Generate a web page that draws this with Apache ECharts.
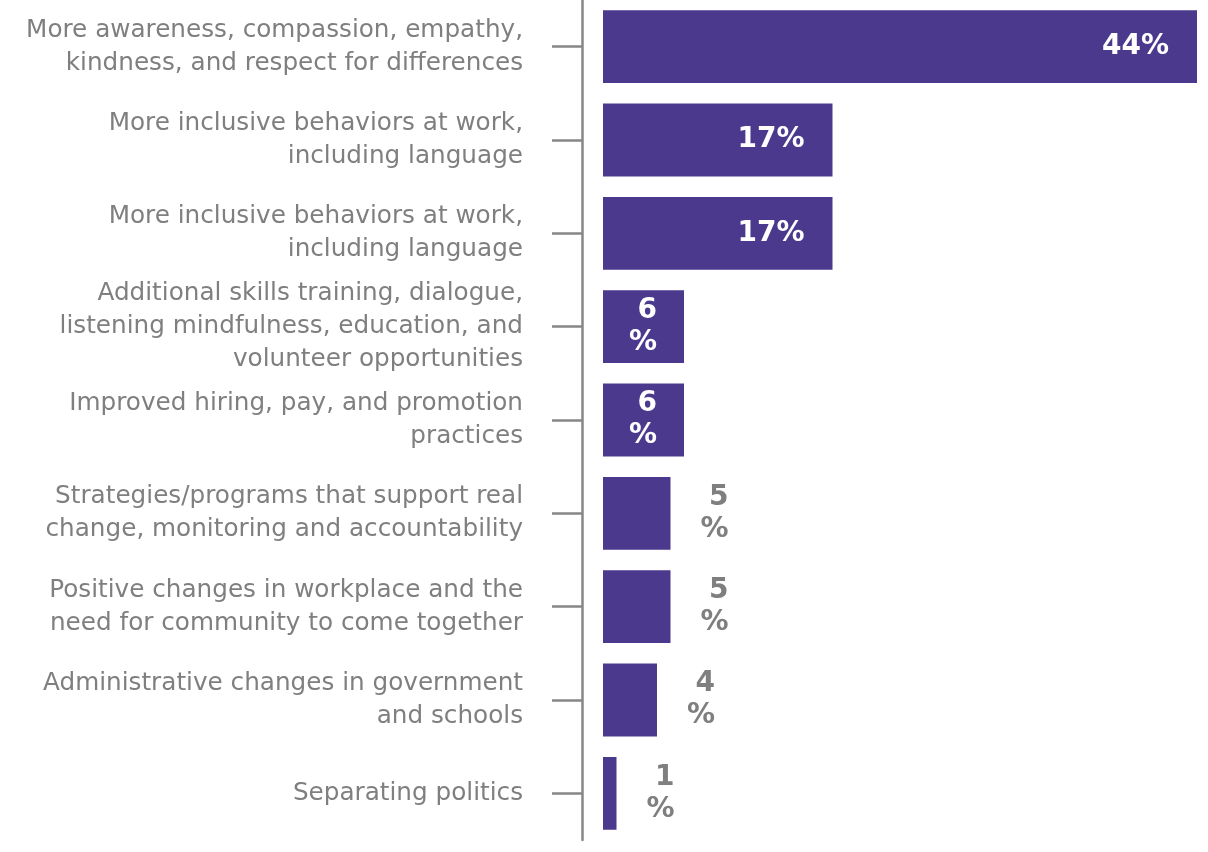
<!DOCTYPE html>
<html>
<head>
<meta charset="utf-8">
<style>
  html, body { margin: 0; padding: 0; background: #ffffff; }
  #chart { width: 1208px; height: 852px; }
</style>
<script src="https://cdn.jsdelivr.net/npm/echarts@6/dist/echarts.min.js"></script>
</head>
<body>
<div id="chart"></div>
<script>
// Responses, top to bottom
const categories = [
  'More awareness, compassion, empathy,\nkindness, and respect for differences',
  'More inclusive behaviors at work,\nincluding language',
  'More inclusive behaviors at work,\nincluding language',
  'Additional skills training, dialogue,\nlistening mindfulness, education, and\nvolunteer opportunities',
  'Improved hiring, pay, and promotion\npractices',
  'Strategies/programs that support real\nchange, monitoring and accountability',
  'Positive changes in workplace and the\nneed for community to come together',
  'Administrative changes in government\nand schools',
  'Separating politics'
];
// Share of respondents, percent
const shares = [44, 17, 17, 6, 6, 5, 5, 4, 1];

const BAR = '#4b398e';
const GREY = '#7f7f7f';
const FONT = 'DejaVu Sans';

// Plot area runs from the axis line to the end of the longest bar;
// bars start a small gap to the right of the axis line.
const PLOT_LEFT = 582;
const PLOT_RIGHT = 1197;
const GAP = 21;
const MAX = 44;
const MIN = -GAP * MAX / (PLOT_RIGHT - PLOT_LEFT - GAP);

// Wide bars carry their label inside; narrow ones wrap it, the smallest put it beside the bar
function labelFor(v) {
  const base = {
    show: true,
    fontFamily: FONT,
    fontWeight: 'bold',
    fontSize: 28,
    lineHeight: 32
  };
  if (v >= 10) {
    return Object.assign(base, {
      position: 'insideRight', distance: 28, color: '#ffffff',
      formatter: '{c}%'
    });
  }
  if (v >= 6) {
    return Object.assign(base, {
      position: 'insideRight', distance: 27, color: '#ffffff',
      formatter: '{c}\n%'
    });
  }
  return Object.assign(base, {
    position: ['100%', '50%'], offset: [58, 0],
    align: 'right', verticalAlign: 'middle', color: GREY,
    formatter: '{c}\n%'
  });
}

const chart = echarts.init(document.getElementById('chart'), null, { renderer: 'canvas' });
chart.setOption({
  animation: false,
  backgroundColor: '#ffffff',
  grid: { left: PLOT_LEFT, right: 1208 - PLOT_RIGHT, top: 0, height: 840, containLabel: false },
  xAxis: {
    type: 'value',
    min: MIN,
    max: MAX,
    show: false
  },
  yAxis: {
    type: 'category',
    data: categories,
    inverse: true,
    axisLine: { show: true, onZero: false, lineStyle: { color: '#878787', width: 2.5 } },
    axisTick: { show: true, alignWithLabel: true, length: 30, lineStyle: { color: '#878787', width: 2.5 } },
    axisLabel: {
      margin: 59,
      color: GREY,
      fontFamily: FONT,
      fontSize: 24.7,
      lineHeight: 33,
      align: 'right'
    },
    splitLine: { show: false }
  },
  series: [{
    type: 'bar',
    data: shares.map(v => ({ value: v, label: labelFor(v) })),
    barCategoryGap: '22%',
    itemStyle: { color: BAR },
    silent: true
  }]
});
</script>
</body>
</html>
